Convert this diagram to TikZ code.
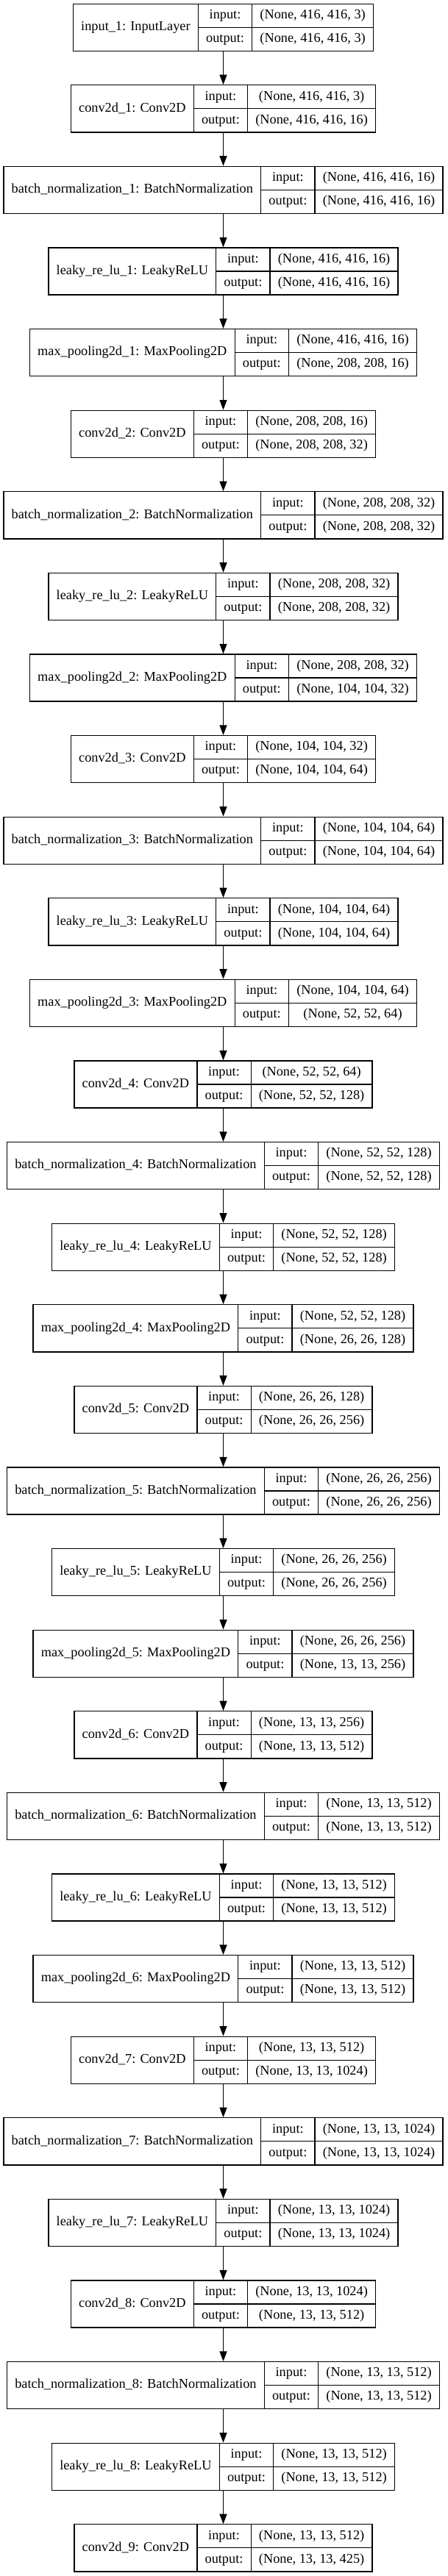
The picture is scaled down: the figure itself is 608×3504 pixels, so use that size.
\documentclass[tikz,border=0pt]{standalone}
\usepackage{fontspec}
\setmainfont{Liberation Serif}
\usetikzlibrary{arrows.meta}
\newdimen\lwA \newdimen\lwB \newdimen\lwC \newdimen\lwD
\newcommand\lfont{\normalfont\fontsize{18.3}{22}\selectfont}
\def\padx{21.5}
\newcommand\measurelayer[3]{%
  \pgfinterruptpicture
  \settowidth\lwA{\lfont #1}\global\lwA=\lwA
  \settowidth\lwB{\lfont output:}\global\lwB=\lwB
  \settowidth\lwC{\lfont #2}\settowidth\lwD{\lfont #3}%
  \ifdim\lwD>\lwC \lwC=\lwD\fi
  \global\lwC=\lwC
  \endpgfinterruptpicture
}
\newcommand\layer[5]{%
  \measurelayer{#3}{#4}{#5}%
  \pgfmathsetmacro\wA{\lwA+\padx}%
  \pgfmathsetmacro\wB{\lwB+\padx}%
  \pgfmathsetmacro\wC{\lwC+\padx}%
  \pgfmathsetmacro\wT{\wA+\wB+\wC}%
  \pgfmathsetmacro\xL{303.5-\wT/2}%
  \pgfmathsetmacro\xa{\xL+\wA}%
  \pgfmathsetmacro\xb{\xa+\wB}%
  \pgfmathsetmacro\xR{\xL+\wT}%
  \pgfmathsetmacro\cy{3504-(5.2+32.05+#2*110.6)}%
  \node[layerbox, minimum width=\wT pt] (#1) at (303.5,\cy) {};
  \draw[rule] (\xa,\cy+32.05) -- (\xa,\cy-32.05);
  \draw[rule] (\xb,\cy+32.05) -- (\xb,\cy-32.05);
  \draw[rule] (\xa,\cy) -- (\xR,\cy);
  \node[txt] (#1-lab) at ({\xL+\wA/2},\cy) {#3};
  \node[txt] (#1-in) at ({\xa+\wB/2},{\cy+16}) {input:};
  \node[txt] (#1-out) at ({\xa+\wB/2},{\cy-16}) {output:};
  \node[txt] (#1-sin) at ({\xb+\wC/2},{\cy+16}) {#4};
  \node[txt] (#1-sout) at ({\xb+\wC/2},{\cy-16}) {#5};
}
\begin{document}
\begin{tikzpicture}[x=1pt,y=1pt,
  layerbox/.style={draw=black, line width=1.3pt, minimum height=64.1pt, inner sep=0pt, rectangle},
  rule/.style={draw=black, line width=1.3pt},
  txt/.style={inner sep=0pt, font=\lfont, text height=13pt, text depth=4.5pt},
  arr/.style={draw=black, line width=1.3pt, -{Triangle[length=13.5pt, width=10pt]}}]
\useasboundingbox[fill=white] (0,0) rectangle (608,3504);
\layer{L0}{0}{input\_1: InputLayer}{(None, 416, 416, 3)}{(None, 416, 416, 3)}
\layer{L1}{1}{conv2d\_1: Conv2D}{(None, 416, 416, 3)}{(None, 416, 416, 16)}
\layer{L2}{2}{batch\_normalization\_1: BatchNormalization}{(None, 416, 416, 16)}{(None, 416, 416, 16)}
\layer{L3}{3}{leaky\_re\_lu\_1: LeakyReLU}{(None, 416, 416, 16)}{(None, 416, 416, 16)}
\layer{L4}{4}{max\_pooling2d\_1: MaxPooling2D}{(None, 416, 416, 16)}{(None, 208, 208, 16)}
\layer{L5}{5}{conv2d\_2: Conv2D}{(None, 208, 208, 16)}{(None, 208, 208, 32)}
\layer{L6}{6}{batch\_normalization\_2: BatchNormalization}{(None, 208, 208, 32)}{(None, 208, 208, 32)}
\layer{L7}{7}{leaky\_re\_lu\_2: LeakyReLU}{(None, 208, 208, 32)}{(None, 208, 208, 32)}
\layer{L8}{8}{max\_pooling2d\_2: MaxPooling2D}{(None, 208, 208, 32)}{(None, 104, 104, 32)}
\layer{L9}{9}{conv2d\_3: Conv2D}{(None, 104, 104, 32)}{(None, 104, 104, 64)}
\layer{L10}{10}{batch\_normalization\_3: BatchNormalization}{(None, 104, 104, 64)}{(None, 104, 104, 64)}
\layer{L11}{11}{leaky\_re\_lu\_3: LeakyReLU}{(None, 104, 104, 64)}{(None, 104, 104, 64)}
\layer{L12}{12}{max\_pooling2d\_3: MaxPooling2D}{(None, 104, 104, 64)}{(None, 52, 52, 64)}
\layer{L13}{13}{conv2d\_4: Conv2D}{(None, 52, 52, 64)}{(None, 52, 52, 128)}
\layer{L14}{14}{batch\_normalization\_4: BatchNormalization}{(None, 52, 52, 128)}{(None, 52, 52, 128)}
\layer{L15}{15}{leaky\_re\_lu\_4: LeakyReLU}{(None, 52, 52, 128)}{(None, 52, 52, 128)}
\layer{L16}{16}{max\_pooling2d\_4: MaxPooling2D}{(None, 52, 52, 128)}{(None, 26, 26, 128)}
\layer{L17}{17}{conv2d\_5: Conv2D}{(None, 26, 26, 128)}{(None, 26, 26, 256)}
\layer{L18}{18}{batch\_normalization\_5: BatchNormalization}{(None, 26, 26, 256)}{(None, 26, 26, 256)}
\layer{L19}{19}{leaky\_re\_lu\_5: LeakyReLU}{(None, 26, 26, 256)}{(None, 26, 26, 256)}
\layer{L20}{20}{max\_pooling2d\_5: MaxPooling2D}{(None, 26, 26, 256)}{(None, 13, 13, 256)}
\layer{L21}{21}{conv2d\_6: Conv2D}{(None, 13, 13, 256)}{(None, 13, 13, 512)}
\layer{L22}{22}{batch\_normalization\_6: BatchNormalization}{(None, 13, 13, 512)}{(None, 13, 13, 512)}
\layer{L23}{23}{leaky\_re\_lu\_6: LeakyReLU}{(None, 13, 13, 512)}{(None, 13, 13, 512)}
\layer{L24}{24}{max\_pooling2d\_6: MaxPooling2D}{(None, 13, 13, 512)}{(None, 13, 13, 512)}
\layer{L25}{25}{conv2d\_7: Conv2D}{(None, 13, 13, 512)}{(None, 13, 13, 1024)}
\layer{L26}{26}{batch\_normalization\_7: BatchNormalization}{(None, 13, 13, 1024)}{(None, 13, 13, 1024)}
\layer{L27}{27}{leaky\_re\_lu\_7: LeakyReLU}{(None, 13, 13, 1024)}{(None, 13, 13, 1024)}
\layer{L28}{28}{conv2d\_8: Conv2D}{(None, 13, 13, 1024)}{(None, 13, 13, 512)}
\layer{L29}{29}{batch\_normalization\_8: BatchNormalization}{(None, 13, 13, 512)}{(None, 13, 13, 512)}
\layer{L30}{30}{leaky\_re\_lu\_8: LeakyReLU}{(None, 13, 13, 512)}{(None, 13, 13, 512)}
\layer{L31}{31}{conv2d\_9: Conv2D}{(None, 13, 13, 512)}{(None, 13, 13, 425)}
\foreach \a [evaluate=\a as \b using int(\a+1)] in {0,...,30} {
  \draw[arr] (L\a) -- (L\b);
}
\end{tikzpicture}
\end{document}
